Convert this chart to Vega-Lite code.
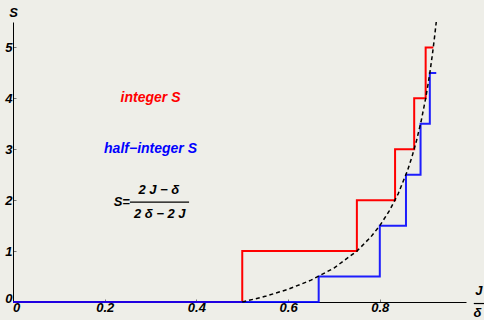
{
  "$schema": "https://vega.github.io/schema/vega-lite/v6.json",
  "width": 453,
  "height": 280,
  "autosize": {"type": "none"},
  "padding": {"left": 13, "top": 22, "right": 18, "bottom": 18},
  "background": "#eeeee8",
  "config": {
    "view": {"stroke": null},
    "font": "Liberation Sans",
    "axis": {
      "grid": false,
      "domainColor": "#000000",
      "domainWidth": 1,
      "tickColor": "#777777",
      "tickSize": -3,
      "tickWidth": 1,
      "labelFont": "Liberation Sans",
      "labelFontSize": 13,
      "labelFontWeight": "bold",
      "labelFontStyle": "italic",
      "labelColor": "#000000"
    }
  },
  "layer": [
    {
      "data": {"values": [
        {"x": 0, "s": 0}, {"x": 0.5, "s": 1}, {"x": 0.75, "s": 2},
        {"x": 0.8333, "s": 3}, {"x": 0.875, "s": 4}, {"x": 0.9, "s": 5},
        {"x": 0.9167, "s": 5}
      ]},
      "mark": {"type": "line", "interpolate": "step-after", "color": "#ff0000", "strokeWidth": 2},
      "encoding": {
        "x": {"field": "x", "type": "quantitative",
              "scale": {"domain": [0, 0.988], "nice": false, "zero": false},
              "axis": {"values": [0, 0.2, 0.4, 0.6, 0.8], "format": "~g", "title": null, "labelPadding": 2, "labelFlush": false,
                       "labelOffset": {"condition": {"test": "datum.value === 0", "value": 3}, "value": 0}}},
        "y": {"field": "s", "type": "quantitative",
              "scale": {"domain": [0, 5.5], "nice": false},
              "axis": {"values": [0, 1, 2, 3, 4, 5], "title": "S", "titleAngle": 0,
                       "titleX": 0, "titleY": -10, "titleAlign": "center", "titleBaseline": "middle",
                       "titleFontSize": 13, "titleFontWeight": "bold", "titleFontStyle": "italic",
                       "titleFont": "Liberation Sans", "labelPadding": 4,
                       "labelOffset": {"condition": {"test": "datum.value === 0", "value": -4}, "value": 0}}}
      }
    },
    {
      "data": {"values": [
        {"x": 0, "s": 0}, {"x": 0.6667, "s": 0.5}, {"x": 0.8, "s": 1.5},
        {"x": 0.8571, "s": 2.5}, {"x": 0.8889, "s": 3.5}, {"x": 0.9091, "s": 4.5},
        {"x": 0.9231, "s": 4.5}
      ]},
      "mark": {"type": "line", "interpolate": "step-after", "color": "#0000ff", "strokeWidth": 2, "opacity": 0.88},
      "encoding": {
        "x": {"field": "x", "type": "quantitative"},
        "y": {"field": "s", "type": "quantitative"}
      }
    },
    {
      "data": {"values": [
        {"x": 0.5, "s": 0}, {"x": 0.55, "s": 0.111}, {"x": 0.6, "s": 0.25},
        {"x": 0.65, "s": 0.429}, {"x": 0.7, "s": 0.667}, {"x": 0.75, "s": 1},
        {"x": 0.78, "s": 1.273}, {"x": 0.8, "s": 1.5}, {"x": 0.82, "s": 1.778},
        {"x": 0.84, "s": 2.125}, {"x": 0.86, "s": 2.571}, {"x": 0.87, "s": 2.846},
        {"x": 0.88, "s": 3.167}, {"x": 0.89, "s": 3.545}, {"x": 0.9, "s": 4},
        {"x": 0.905, "s": 4.263}, {"x": 0.91, "s": 4.556}, {"x": 0.915, "s": 4.882},
        {"x": 0.92, "s": 5.25}, {"x": 0.9231, "s": 5.5}
      ]},
      "mark": {"type": "line", "color": "#000000", "strokeWidth": 1.5, "strokeDash": [4, 3]},
      "encoding": {
        "x": {"field": "x", "type": "quantitative"},
        "y": {"field": "s", "type": "quantitative"}
      }
    },
    {
      "data": {"values": [{"x": 0.3, "s": 4.0, "t": "integer S"}]},
      "mark": {"type": "text", "color": "#ff0000", "fontSize": 14, "fontWeight": "bold", "fontStyle": "italic", "align": "center", "baseline": "middle"},
      "encoding": {
        "x": {"field": "x", "type": "quantitative"},
        "y": {"field": "s", "type": "quantitative"},
        "text": {"field": "t"}
      }
    },
    {
      "data": {"values": [{"x": 0.3, "s": 3.0, "t": "half−integer S"}]},
      "mark": {"type": "text", "color": "#0000ff", "fontSize": 14, "fontWeight": "bold", "fontStyle": "italic", "align": "center", "baseline": "middle"},
      "encoding": {
        "x": {"field": "x", "type": "quantitative"},
        "y": {"field": "s", "type": "quantitative"},
        "text": {"field": "t"}
      }
    },
    {
      "data": {"values": [
        {"x": 0.255, "s": 1.96, "t": "S="}
      ]},
      "mark": {"type": "text", "color": "#000000", "fontSize": 13, "fontWeight": "bold", "fontStyle": "italic", "align": "right", "baseline": "middle"},
      "encoding": {
        "x": {"field": "x", "type": "quantitative"},
        "y": {"field": "s", "type": "quantitative"},
        "text": {"field": "t"}
      }
    },
    {
      "data": {"values": [
        {"x": 0.318, "s": 2.2, "t": "2 J − δ"},
        {"x": 0.32, "s": 1.72, "t": "2 δ − 2 J"},
        {"x": 1.016, "s": 0.22, "t": "J"},
        {"x": 1.013, "s": -0.21, "t": "δ"}
      ]},
      "mark": {"type": "text", "color": "#000000", "fontSize": 13, "fontWeight": "bold", "fontStyle": "italic", "align": "center", "baseline": "middle", "clip": false},
      "encoding": {
        "x": {"field": "x", "type": "quantitative"},
        "y": {"field": "s", "type": "quantitative"},
        "text": {"field": "t"}
      }
    },
    {
      "data": {"values": [
        {"x": 0.255, "x2": 0.384, "s": 1.96},
        {"x": 1.005, "x2": 1.03, "s": -0.03}
      ]},
      "mark": {"type": "rule", "color": "#000000", "strokeWidth": 1.2, "clip": false},
      "encoding": {
        "x": {"field": "x", "type": "quantitative"},
        "x2": {"field": "x2"},
        "y": {"field": "s", "type": "quantitative"}
      }
    }
  ]
}
